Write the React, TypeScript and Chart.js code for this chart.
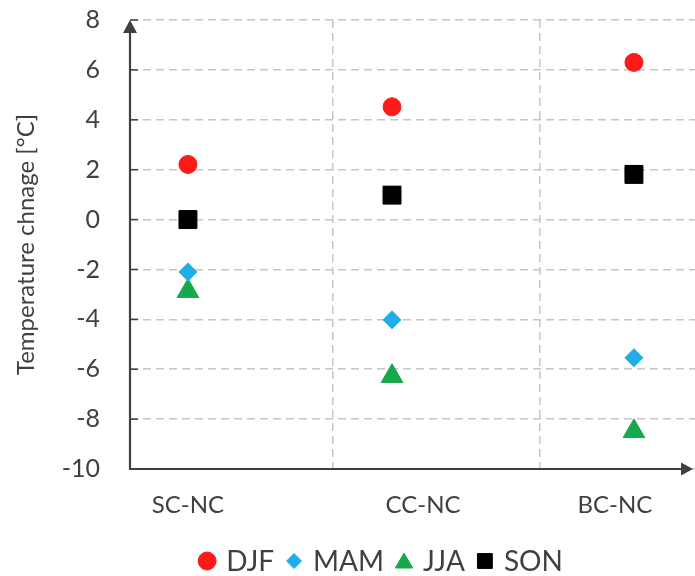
import React, { useEffect, useRef } from "react";
import { Chart, registerables } from "chart.js";
import { drawPoint } from "chart.js/helpers";

Chart.register(...registerables);

// ---- data ----
const categories = ["SC-NC", "CC-NC", "BC-NC"];
const pointPos = [0.3, 1.286, 2.455];
const labelPos = [0.3, 1.436, 2.363];
const dividers = [1, 2];
const djf = [2.21, 4.52, 6.3];
const mam = [-2.1, -4.02, -5.54];
const jja = [-2.87, -6.28, -8.49];
const son = [0.0, 0.98, 1.81];
const yMin = -10;
const yMax = 8;
const yStep = 2;
const yTitle = "Temperature chnage [°C]";

const series = [
  { name: "DJF", values: djf, color: "#ff1a1a", style: "circle", r: 9, lr: 9 },
  { name: "MAM", values: mam, color: "#1eaeea", style: "rectRot", r: 9, lr: 7.5 },
  { name: "JJA", values: jja, color: "#17a84e", style: "triangle", r: 12.5, lr: 10 },
  { name: "SON", values: son, color: "#000000", style: "rect", r: 12.7, lr: 10.5 },
];

const TEXT = "#404040";
const GRID = "#c6c6c6";
const FONT = "Lato, 'Open Sans', sans-serif";

const axesPlugin = {
  id: "axesArrows",
  beforeDatasetsDraw(chart: any) {
    const { ctx, chartArea } = chart;
    const { left, top, right, bottom } = chartArea;
    const y = chart.scales.y;
    ctx.save();
    ctx.strokeStyle = TEXT;
    ctx.fillStyle = TEXT;
    // inner ticks on y axis
    ctx.lineWidth = 1.5;
    for (let v = yMin; v <= yMax; v += yStep) {
      const py = y.getPixelForValue(v);
      ctx.beginPath();
      ctx.moveTo(left, py);
      ctx.lineTo(left + 8, py);
      ctx.stroke();
    }
    ctx.lineWidth = 2.2;
    // y axis
    ctx.beginPath();
    ctx.moveTo(left, bottom);
    ctx.lineTo(left, top + 8);
    ctx.stroke();
    ctx.beginPath();
    ctx.moveTo(left, top);
    ctx.lineTo(left - 7, top + 13);
    ctx.lineTo(left + 7, top + 13);
    ctx.closePath();
    ctx.fill();
    // x axis
    const tipX = right - 2;
    ctx.beginPath();
    ctx.moveTo(left - 1, bottom);
    ctx.lineTo(tipX - 8, bottom);
    ctx.stroke();
    ctx.beginPath();
    ctx.moveTo(tipX, bottom);
    ctx.lineTo(tipX - 12, bottom - 6.5);
    ctx.lineTo(tipX - 12, bottom + 6.5);
    ctx.closePath();
    ctx.fill();
    ctx.restore();
  },
};

const legendPlugin = {
  id: "customLegend",
  afterDraw(chart: any) {
    const { ctx } = chart;
    const cx = 385;
    const cy = 561;
    const markerToText = 19;
    const itemGap = 11;
    ctx.save();
    ctx.font = `28px ${FONT}`;
    ctx.textBaseline = "middle";
    ctx.textAlign = "left";
    const widths = series.map((s) => ctx.measureText(s.name).width);
    let total = 0;
    series.forEach((s, i) => {
      total += markerToText + widths[i] + (i < series.length - 1 ? itemGap + 9 : 0);
    });
    let x = cx - total / 2;
    series.forEach((s, i) => {
      const mx = x;
      ctx.fillStyle = s.color;
      ctx.strokeStyle = s.color;
      ctx.lineWidth = 1;
      drawPoint(ctx, { pointStyle: s.style as any, radius: s.lr, rotation: 0, borderWidth: 1 }, mx, cy + (s.style === "triangle" ? 2 : 0));
      ctx.fillStyle = TEXT;
      ctx.fillText(s.name, mx + markerToText, cy + 1);
      x = mx + markerToText + widths[i] + itemGap + 9;
    });
    ctx.restore();
  },
};

export default function App() {
  const ref = useRef<HTMLCanvasElement | null>(null);
  useEffect(() => {
    if (!ref.current) return;
    const chart = new Chart(ref.current, {
      type: "scatter",
      data: {
        datasets: series.map((s) => ({
          label: s.name,
          data: s.values.map((v, i) => ({ x: pointPos[i], y: v })),
          pointStyle: s.style as any,
          pointRadius: s.r,
          pointHoverRadius: s.r,
          backgroundColor: s.color,
          borderColor: s.color,
          pointBorderWidth: 1,
          showLine: false,
        })),
      },
      options: {
        responsive: false,
        animation: false,
        layout: { autoPadding: false, padding: { top: 20, left: 0, right: 0, bottom: 0 } },
        plugins: { legend: { display: false }, tooltip: { enabled: false } },
        scales: {
          x: {
            type: "linear",
            min: 0.02,
            max: 2.75,
            afterFit: (s: any) => {
              s.height = 107;
            },
            afterBuildTicks: (s: any) => {
              s.ticks = [...labelPos, ...dividers]
                .sort((a, b) => a - b)
                .map((v) => ({ value: v }));
            },
            ticks: {
              autoSkip: false,
              maxRotation: 0,
              padding: 22,
              color: TEXT,
              font: { family: FONT, size: 24 },
              callback: (value: any) => {
                const idx = labelPos.findIndex((p) => Math.abs(p - value) < 1e-6);
                return idx >= 0 ? categories[idx] : "";
              },
            },
            grid: {
              drawTicks: false,
              lineWidth: 1.5,
              color: (c: any) =>
                c.tick && dividers.some((d) => Math.abs(d - c.tick.value) < 1e-6)
                  ? GRID
                  : "rgba(0,0,0,0)",
            },
            border: { display: false, dash: [8, 5] },
          },
          y: {
            type: "linear",
            min: yMin,
            max: yMax,
            afterFit: (s: any) => {
              s.width = 130;
            },
            ticks: {
              stepSize: yStep,
              padding: 0,
              color: TEXT,
              font: { family: FONT, size: 25 },
            },
            grid: {
              drawTicks: true,
              tickLength: 30,
              tickColor: "rgba(0,0,0,0)",
              lineWidth: 1.5,
              color: GRID,
            },
            border: { display: false, dash: [8, 5] },
            title: {
              display: true,
              text: yTitle,
              color: TEXT,
              font: { family: FONT, size: 24 },
              padding: { top: 12, bottom: 0 },
            },
          },
        },
      },
      plugins: [axesPlugin, legendPlugin],
    });
    return () => chart.destroy();
  }, []);
  return (
    <div style={{ position: "absolute", left: 0, top: 0, width: 695, height: 576, background: "#fff" }}>
      <canvas ref={ref} width={695} height={576} />
    </div>
  );
}
